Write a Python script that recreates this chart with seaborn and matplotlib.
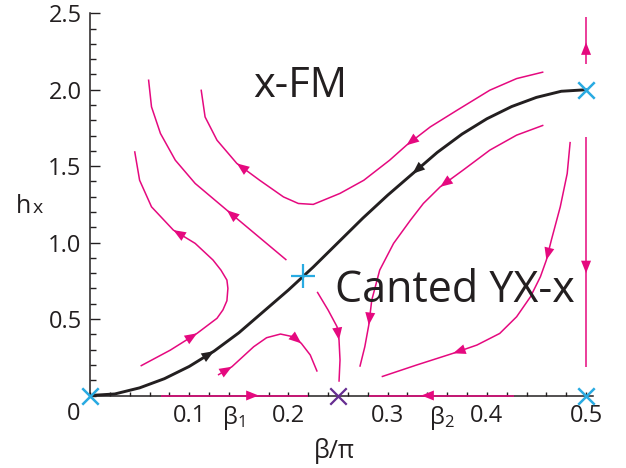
import matplotlib
matplotlib.use("Agg")
import matplotlib.pyplot as plt
import seaborn as sns
from matplotlib.ticker import MultipleLocator

# black separatrix, origin -> saddle <- (0.5, 2)
sep_beta = [0, 0.025, 0.05, 0.075, 0.1, 0.125, 0.15, 0.175, 0.2, 0.225, 0.25,
            0.275, 0.3, 0.325, 0.35, 0.375, 0.4, 0.425, 0.45, 0.475, 0.5]
sep_h = [0, 0.01, 0.05, 0.11, 0.19, 0.29, 0.41, 0.55, 0.69, 0.84, 1.0,
         1.16, 1.31, 1.45, 1.59, 1.71, 1.81, 1.89, 1.95, 1.99, 2.0]

# magenta flow lines, points listed in the flow direction
fa_beta = [0.198, 0.168, 0.138, 0.106, 0.086, 0.071, 0.062, 0.059]
fa_h = [0.886, 1.049, 1.212, 1.387, 1.539, 1.714, 1.888, 2.067]

fb_beta = [0.457, 0.430, 0.403, 0.370, 0.343, 0.319, 0.302, 0.276, 0.252, 0.225,
           0.210, 0.195, 0.171, 0.148, 0.128, 0.116, 0.112]
fb_h = [2.116, 2.073, 1.997, 1.866, 1.757, 1.637, 1.539, 1.408, 1.322, 1.250,
        1.256, 1.299, 1.408, 1.518, 1.670, 1.822, 2.001]

fc_beta = [0.051, 0.081, 0.108, 0.128, 0.134, 0.138, 0.139, 0.138, 0.132, 0.124,
           0.106, 0.084, 0.062, 0.050, 0.045]
fc_h = [0.193, 0.297, 0.407, 0.505, 0.560, 0.620, 0.701, 0.755, 0.820, 0.886,
        0.995, 1.082, 1.234, 1.408, 1.598]

fd_beta = [0.129, 0.143, 0.165, 0.178, 0.192, 0.205, 0.213, 0.222, 0.229]
fd_h = [0.134, 0.188, 0.319, 0.378, 0.402, 0.384, 0.341, 0.265, 0.156]

fe_beta = [0.229, 0.240, 0.249, 0.251, 0.252, 0.251]
fe_h = [0.678, 0.559, 0.450, 0.363, 0.232, 0.090]

ff_beta = [0.457, 0.430, 0.403, 0.376, 0.353, 0.336, 0.323, 0.306, 0.292, 0.284,
           0.281, 0.277, 0.272]
ff_h = [1.768, 1.703, 1.605, 1.474, 1.365, 1.256, 1.147, 0.995, 0.820, 0.624,
        0.461, 0.319, 0.188]

fg_beta = [0.484, 0.481, 0.474, 0.465, 0.460, 0.454, 0.444, 0.430, 0.413, 0.390,
           0.366, 0.329, 0.294]
fg_h = [1.659, 1.452, 1.234, 1.016, 0.886, 0.777, 0.646, 0.515, 0.406, 0.330,
        0.276, 0.199, 0.123]

edge_low_beta = [0.5, 0.5, 0.5]
edge_low_h = [1.69, 0.80, 0.188]
edge_top_beta = [0.5, 0.5, 0.5]
edge_top_h = [2.17, 2.31, 2.475]

axis_left_beta = [0.072, 0.170, 0.220]
axis_left_h = [0, 0, 0]
axis_right_beta = [0.427, 0.334, 0.281]
axis_right_h = [0, 0, 0]

# fixed points
cyan_beta = [0.0, 0.5, 0.5]
cyan_h = [0.0, 0.0, 2.0]
saddle_beta = [0.215]
saddle_h = [0.78]
purple_beta = [0.25]
purple_h = [0.0]

x_ticks = [0.1, 0.145, 0.2, 0.3, 0.355, 0.4, 0.5]
x_labels = ["0.1", r"$\mathregular{β_1}$", "0.2", "0.3", r"$\mathregular{β_2}$", "0.4", "0.5"]
y_ticks = [0.5, 1.0, 1.5, 2.0, 2.5]
y_labels = ["0.5", "1.0", "1.5", "2.0", "2.5"]

MAG = "#E5097F"
CYAN = "#29ABE2"
PURPLE = "#662D91"
INK = "#231F20"

sns.set_style("ticks")
plt.rcParams["font.family"] = ["Open Sans", "DejaVu Sans"]
plt.rcParams["mathtext.fontset"] = "custom"
plt.rcParams["mathtext.rm"] = "Open Sans"
plt.rcParams["text.color"] = INK

fig = plt.figure(figsize=(6.26, 4.68), dpi=100)
ax = fig.add_axes([90 / 626, 72.5 / 468, 503 / 626, 382.2 / 468])


def arrow(xs, ys, k, color, back=1):
    ax.annotate("", xy=(xs[k], ys[k]), xytext=(xs[k - back], ys[k - back]),
                arrowprops=dict(arrowstyle="-|>,head_length=0.75,head_width=0.3",
                                color=color, lw=0, shrinkA=0, shrinkB=0,
                                mutation_scale=12),
                zorder=4)


flows = [
    (fa_beta, fa_h, [2]),
    (fb_beta, fb_h, [5, 13]),
    (fc_beta, fc_h, [2, 11]),
    (fd_beta, fd_h, [1, 6]),
    (fe_beta, fe_h, [3]),
    (ff_beta, ff_h, [4, 10]),
    (fg_beta, fg_h, [4, 10]),
    (edge_low_beta, edge_low_h, [1]),
    (edge_top_beta, edge_top_h, [1]),
    (axis_left_beta, axis_left_h, [1]),
    (axis_right_beta, axis_right_h, [1]),
]
for xs, ys, arrows in flows:
    sns.lineplot(x=xs, y=ys, sort=False, estimator=None, color=MAG,
                 linewidth=1.1, ax=ax, clip_on=False, zorder=3,
                 solid_joinstyle="round", solid_capstyle="butt")
    for k in arrows:
        arrow(xs, ys, k, MAG)

sns.lineplot(x=sep_beta, y=sep_h, sort=False, estimator=None, color=INK,
             linewidth=2.1, ax=ax, clip_on=False, zorder=4,
             solid_joinstyle="round")
arrow(sep_beta, sep_h, 5, INK)
arrow(sep_beta, sep_h, 13, INK, back=-1)

sns.scatterplot(x=cyan_beta, y=cyan_h, marker="x", s=140, color=CYAN,
                linewidth=1.8, ax=ax, clip_on=False, zorder=6)
sns.scatterplot(x=saddle_beta, y=saddle_h, marker="+", s=280, color=CYAN,
                linewidth=1.6, ax=ax, clip_on=False, zorder=6)
sns.scatterplot(x=purple_beta, y=purple_h, marker="x", s=140, color=PURPLE,
                linewidth=1.6, ax=ax, clip_on=False, zorder=6)

ax.set_xlim(0, 0.507)
ax.set_ylim(0, 2.5)
ax.set_xticks(x_ticks)
ax.set_xticklabels(x_labels)
ax.set_yticks(y_ticks)
ax.set_yticklabels(y_labels)
ax.xaxis.set_minor_locator(MultipleLocator(0.02))
ax.yaxis.set_minor_locator(MultipleLocator(0.1))
ax.xaxis.remove_overlapping_locs = False
ax.tick_params(axis="x", which="major", direction="in", length=0, pad=6,
               labelsize=17, labelcolor=INK)
ax.tick_params(axis="x", which="minor", direction="in", length=3, width=1, color=INK)
ax.tick_params(axis="y", which="major", direction="in", length=7, width=1,
               pad=6, labelsize=17, labelcolor=INK, color=INK)
ax.tick_params(axis="y", which="minor", direction="in", length=4.3, width=1, color=INK)
sns.despine(ax=ax)
for side in ["left", "bottom"]:
    ax.spines[side].set_linewidth(1.1)
    ax.spines[side].set_color(INK)

ax.annotate("0", xy=(0, 0), xytext=(-7, -5), textcoords="offset points",
            ha="right", va="top", fontsize=17)

ax.text(0.2117, 1.951, "x-FM", ha="center", va="baseline", fontsize=30)
ax.text(0.247, 0.611, "Canted YX-x", ha="left", va="baseline", fontsize=31)

fig.text(16 / 626, 1 - 213 / 468, "h", ha="left", va="baseline", fontsize=18)
fig.text(33 / 626, 1 - 213 / 468, "x", ha="left", va="baseline", fontsize=14)
fig.text(334 / 626, 1 - 458 / 468, "β/π", ha="center", va="baseline", fontsize=18)

fig.savefig("out.png", dpi=100)
